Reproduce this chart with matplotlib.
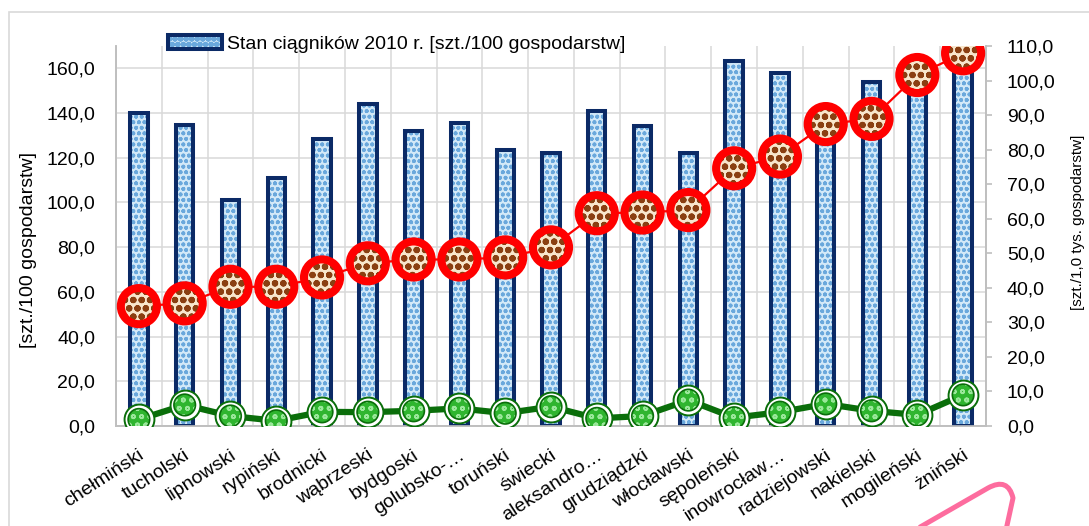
import matplotlib
matplotlib.use("Agg")
import matplotlib.pyplot as plt
from matplotlib import font_manager
from matplotlib.patches import Rectangle, PathPatch
from matplotlib.path import Path
from matplotlib.transforms import IdentityTransform, ScaledTranslation
from matplotlib.legend_handler import HandlerTuple
from matplotlib.ticker import FuncFormatter, MultipleLocator
import numpy as np

names = {f.name for f in font_manager.fontManager.ttflist}
FONT = "Liberation Sans Narrow" if "Liberation Sans Narrow" in names else "Liberation Sans"
plt.rcParams["font.family"] = [FONT, "DejaVu Sans"]
plt.rcParams["hatch.linewidth"] = 1.2

powiaty = ["chełmiński", "tucholski", "lipnowski", "rypiński", "brodnicki",
           "wąbrzeski", "bydgoski", "golubsko-…", "toruński", "świecki",
           "aleksandro…", "grudziądzki", "włocławski", "sępoleński",
           "inowrocław…", "radziejowski", "nakielski", "mogileński", "żniński"]

# ciągniki na 100 gospodarstw (lewa oś)
ciagniki_100 = [140.2, 134.7, 101.3, 111.0, 128.3, 144.1, 132.0, 135.5, 123.6,
                122.1, 141.1, 134.3, 122.1, 163.4, 158.1, 135.0, 154.1, 156.0,
                166.0]
# seria czerwona (prawa oś)
seria_czerwona = [34.7, 35.5, 40.3, 40.3, 43.0, 47.1, 48.2, 48.2, 48.8, 51.7,
                  61.6, 61.8, 62.5, 74.6, 78.0, 87.4, 88.9, 101.6, 107.9]
# seria zielona (prawa oś)
seria_zielona = [1.9, 6.1, 2.9, 1.5, 4.1, 4.0, 4.4, 5.1, 3.7, 5.6,
                 2.2, 2.9, 7.5, 2.4, 4.0, 6.4, 4.4, 3.2, 9.0]

legend_label = "Stan ciągników 2010 r. [szt./100 gospodarstw]"
ylabel_left = "[szt./100 gospodarstw]"
ylabel_right = "[szt./1,0 tys. gospodarstw]"

W, H = 1089, 526
fig = plt.figure(figsize=(W / 100, H / 100), dpi=100)
ax = fig.add_axes([116 / W, 1 - 426 / H, (986 - 116) / W, (426 - 46) / H])
ax2 = ax.twinx()

x = np.arange(len(powiaty))
FS = 14
grid_c = "#d9d9d9"
navy = "#0b2a66"

# słupki: wypełnienie z wzorem + obrys
bars_fill = ax.bar(x, ciagniki_100, width=0.38, color="#d3e9f8",
                   edgecolor="#6aa8dc", linewidth=0, hatch="ooo", zorder=2)
bars_edge = ax.bar(x, ciagniki_100, width=0.38, facecolor="none",
                   edgecolor=navy, linewidth=2.9, zorder=3)

ax.set_xlim(-0.5, len(powiaty) - 0.5)
ax.set_ylim(0, 170)
ax2.set_ylim(0, 110)

# linia zielona
ax2.plot(x, seria_zielona, color="#0a6e0a", linewidth=4.5, zorder=3)
ax2.scatter(x, seria_zielona, s=21.5 ** 2, facecolor="white",
            edgecolor="#0a6e0a", linewidths=1.4, zorder=4)
ax2.scatter(x, seria_zielona, s=15.5 ** 2, facecolor="#2fb52f",
            edgecolor="#9be89b", linewidths=0, hatch="oo", zorder=5)
ax2.scatter(x, seria_zielona, s=15.5 ** 2, facecolor="none",
            edgecolor="#0a6e0a", linewidths=1.2, zorder=6)

# linia czerwona
ax2.plot(x, seria_czerwona, color="#ff0000", linewidth=1.6, zorder=7)
plt.rcParams["hatch.linewidth"] = 2.2
ax2.scatter(x, seria_czerwona, s=26 ** 2, facecolor="#f8e6cc",
            edgecolor="#8a3f12", linewidths=0, hatch="oo", zorder=8)
ax2.scatter(x, seria_czerwona, s=26 ** 2, facecolor="none",
            edgecolor="#ff0000", linewidths=5.8, zorder=9)

# siatka
ax.yaxis.set_major_locator(MultipleLocator(20))
ax2.yaxis.set_major_locator(MultipleLocator(10))
ax.set_xticks(x)
ax.set_xticks(np.arange(-0.5, len(powiaty), 1.0), minor=True)
ax.grid(axis="y", which="major", color=grid_c, linewidth=1.1, zorder=0)
ax.grid(axis="x", which="minor", color=grid_c, linewidth=1.1, zorder=0)
ax.set_axisbelow(True)

fmt = FuncFormatter(lambda v, p: f"{v:.1f}".replace(".", ","))
ax.yaxis.set_major_formatter(fmt)
ax2.yaxis.set_major_formatter(fmt)

for a in (ax, ax2):
    a.spines["top"].set_visible(False)
    for s in ("left", "right", "bottom"):
        a.spines[s].set_color("#bfbfbf")
        a.spines[s].set_linewidth(1.2)

ax.tick_params(axis="y", length=0, pad=15, labelsize=FS)
ax.tick_params(axis="x", which="both", length=0, pad=2, labelsize=FS)
ax2.tick_params(axis="y", length=4, width=1.2, color="#bfbfbf", pad=11,
                labelsize=FS)
ax.set_xticklabels(powiaty, rotation=33, ha="right", va="center",
                   rotation_mode="anchor")
shift = ScaledTranslation(4 / 100, -25 / 100, fig.dpi_scale_trans)
for lab in ax.get_xticklabels():
    lab.set_transform(lab.get_transform() + shift)

fig.text(29 / W, 1 - 250 / H, ylabel_left, rotation=90, ha="center",
         va="center", fontsize=FS)
fig.text(1078 / W, 1 - 222 / H, ylabel_right, rotation=90, ha="center",
         va="center", fontsize=11)

# legenda
leg = fig.legend([(bars_fill[0], bars_edge[0])], [legend_label],
                 handler_map={tuple: HandlerTuple(ndivide=1)},
                 loc="center left", bbox_to_anchor=(168 / W, 1 - 44 / H),
                 frameon=False, borderpad=0, borderaxespad=0,
                 handlelength=2.8, handleheight=0.7, handletextpad=0.25,
                 fontsize=FS)

# ramka obszaru wykresu
fig.add_artist(Rectangle((9, -20), 1200, H - 12 + 20, transform=IdentityTransform(),
                         facecolor="none", edgecolor=grid_c, linewidth=1.2))

# różowy znacznik w rogu
pts = [(915, 530), (988, 488), (1008, 477), (1013, 498), (1006, 530)]
codes = [Path.MOVETO, Path.LINETO, Path.CURVE3, Path.CURVE3, Path.LINETO]
verts = [(px, H - py) for px, py in pts]
fig.add_artist(PathPatch(Path(verts, codes), transform=IdentityTransform(),
                         facecolor="none", edgecolor="#fd6c9e", linewidth=3.6,
                         capstyle="round", joinstyle="round"))

fig.savefig("out.png", dpi=100)
